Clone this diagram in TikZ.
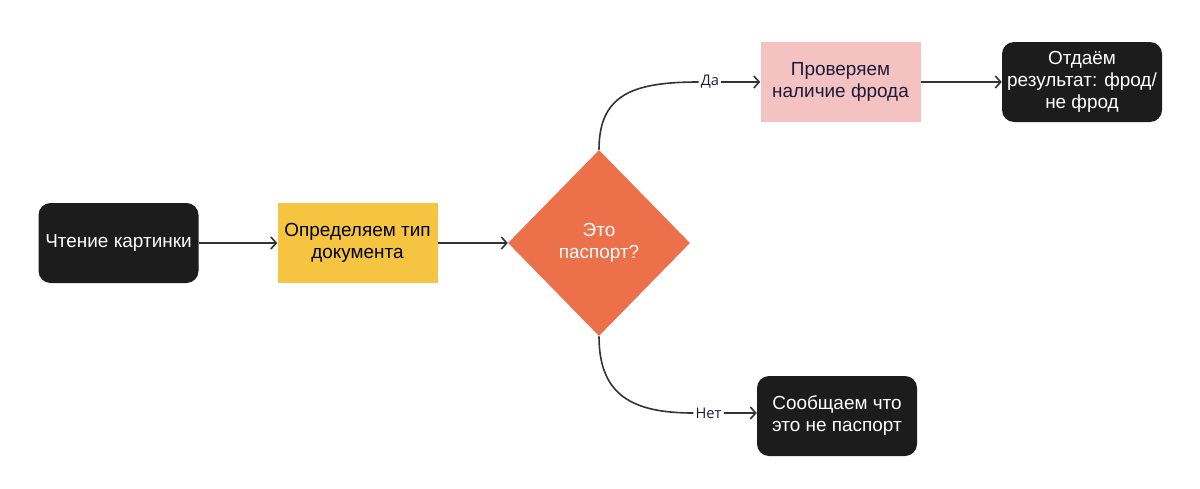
\documentclass[tikz,border=0pt]{standalone}
\usepackage{fontspec}
\setmainfont{Liberation Sans}
\newfontfamily\labelfont{Open Sans}
\usetikzlibrary{shapes.geometric,arrows.meta}
\definecolor{boxblack}{HTML}{1C1C1C}
\definecolor{boxyellow}{HTML}{F5C542}
\definecolor{boxorange}{HTML}{EC704A}
\definecolor{boxpink}{HTML}{F5C2C2}
\definecolor{navy}{HTML}{1E1A3C}
\definecolor{linegray}{HTML}{333333}
\begin{document}
\begin{tikzpicture}[x=0.75pt,y=-0.75pt,
  base/.style={minimum width=120pt,minimum height=60pt,align=center,font=\fontsize{14.2}{16.5}\selectfont,inner sep=1pt},
  darkbox/.style={base,fill=boxblack,rounded corners=9pt,text=white},
  yellowbox/.style={base,fill=boxyellow,text=black},
  pinkbox/.style={base,fill=boxpink,text=navy},
  decision/.style={diamond,fill=boxorange,text=white,minimum width=136.5pt,minimum height=139.5pt,inner sep=0pt,align=center,font=\fontsize{14.2}{16.5}\selectfont},
  lbl/.style={font=\labelfont\fontsize{11}{12}\selectfont,text=navy,inner sep=1.5pt},
  conn/.style={draw=linegray,line width=1.2pt},
  arr/.style={conn,-{Straight Barb[length=4pt,width=9pt,line width=1.2pt]}}]
\useasboundingbox (0,0) rectangle (1200,489);
\node[darkbox] (read) at (118.5,243) {Чтение картинки};
\node[yellowbox] (type) at (357.5,243) {Определяем тип\\документа};
\node[decision] (pass) at (599,243) {Это\\паспорт?};
\node[pinkbox] (fraud) at (840.5,82) {Проверяем\\наличие фрода};
\node[darkbox] (result) at (1082,82) {Отдаём\\результат: фрод/\\не фрод};
\node[darkbox] (notpass) at (837,416) {Сообщаем что\\это не паспорт};
\node[lbl] (yes) at (710,82) {Да};
\node[lbl] (no) at (708.5,413) {Нет};
\draw[arr] (read.east) -- (type.west);
\draw[arr] (type.east) -- (pass.west);
\draw[conn] (pass.north) .. controls (599,95) and (632,82) .. (yes.west);
\draw[arr] (yes.east) -- (fraud.west);
\draw[arr] (fraud.east) -- (result.west);
\draw[conn] (pass.south) .. controls (599,395) and (632,413) .. (no.west);
\draw[arr] (no.east) -- (no.east -| notpass.west);
\end{tikzpicture}
\end{document}
